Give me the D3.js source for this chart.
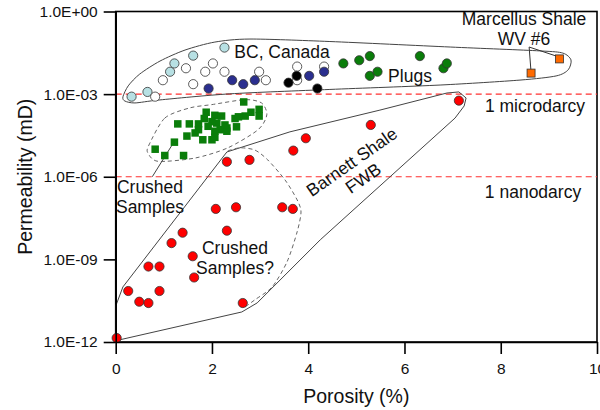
<!DOCTYPE html>
<html>
<head>
<meta charset="utf-8">
<script src="https://cdn.jsdelivr.net/npm/d3@7"></script>
<style>
  body { margin: 0; background: #fff; }
  svg { font-family: "Liberation Sans", Arial, sans-serif; }
  .axis path, .axis line { stroke: #000; stroke-width: 1.6; }
  .axis text { font-size: 15.5px; fill: #111; }
</style>
</head>
<body>
<div id="chart"></div>
<script>
// porosity (%) and permeability (mD)
var bcLightX = [0.33, 0.66, 1.13, 1.22, 1.61, 2.26];
var bcLightY = [8.1e-4, 1.2e-3, 6.5e-3, 1.3e-2, 2.5e-2, 4.9e-2];

var bcOpenX = [0.82, 0.98, 1.46, 1.61, 1.86, 2.02, 2.26, 2.98, 3.12, 3.77, 3.77, 4.33];
var bcOpenY = [8.1e-4, 3.2e-3, 8.7e-3, 2.3e-3, 6.5e-3, 1.3e-2, 6.5e-3, 6.5e-3, 3.2e-3, 1.0e-2, 3.2e-3, 1.0e-2];

var bcNavyX = [1.93, 2.42, 2.65, 2.89, 4.02, 4.33];
var bcNavyY = [1.6e-3, 3.2e-3, 2.3e-3, 3.2e-3, 4.6e-3, 6.5e-3];

var bcBlackX = [3.59, 3.76, 4.19];
var bcBlackY = [2.6e-3, 4.6e-3, 1.6e-3];

var plugsX = [4.73, 5.06, 5.28, 5.28, 5.44, 6.32, 6.81, 6.88];
var plugsY = [1.3e-2, 1.7e-2, 2.4e-2, 4.6e-3, 6.5e-3, 2.4e-2, 8.7e-3, 1.3e-2];

var marcellusX = [8.63, 9.22];
var marcellusY = [5.8e-3, 1.9e-2];

var barnettX = [0.02, 0.26, 0.49, 0.68, 0.91, 0.68, 0.91, 1.16, 1.39, 1.60, 1.63, 2.08,
  2.50, 2.31, 2.64, 2.31, 2.78, 3.46, 3.68, 3.69, 3.95, 5.30, 7.13];
var barnettY = [1.4e-12, 7.1e-11, 2.9e-11, 2.6e-11, 7.1e-11, 5.5e-10, 5.5e-10, 3.9e-9, 9.3e-9, 1.3e-9, 2.2e-10, 6.8e-8,
  7.8e-8, 1.1e-8, 2.6e-11, 3.5e-6, 4.1e-6, 7.8e-8, 6.8e-8, 8.9e-6, 2.5e-5, 7.6e-5, 5.8e-4];

var crushedX = [2.66, 2.98, 2.98, 2.81, 2.69, 2.48, 1.88, 2.06, 2.20, 1.84, 1.29, 1.53, 1.72, 2.10, 2.00, 2.31, 2.17,
  1.72, 1.92, 2.51, 2.31, 2.06, 1.65, 1.48, 2.06, 1.81, 2.00, 1.22, 0.82, 1.02, 1.41, 2.27, 2.55];
var crushedY = [5.2e-4, 2.8e-4, 1.6e-4, 2.2e-4, 1.6e-4, 1.3e-4, 2.2e-4, 1.7e-4, 1.6e-4, 1.3e-4, 8.3e-5, 8.3e-5, 8.3e-5, 8.9e-5, 1.0e-4, 5.9e-5, 5.1e-5,
  5.1e-5, 6.8e-5, 6.5e-5, 4.5e-5, 4.5e-5, 3.9e-5, 3.0e-5, 2.7e-5, 2.2e-5, 2.2e-5, 1.8e-5, 1.0e-5, 5.9e-6, 5.9e-6, 7.6e-5, 1.5e-4];

var xTicks = [0, 2, 4, 6, 8, 10];
var yTicks = [1, 1e-3, 1e-6, 1e-9, 1e-12];
var yTickLabels = ["1.0E+00", "1.0E-03", "1.0E-06", "1.0E-09", "1.0E-12"];
var refLines = [1e-3, 1e-6];

// outlines drawn on the chart, [porosity, log10 permeability]
var bcOutline = [[0.15, -3.10], [0.26, -2.70], [0.50, -2.27], [0.92, -1.80], [1.44, -1.40], [2.06, -1.11],
  [2.79, -1.00], [4.45, -1.09], [6.95, -1.29], [8.81, -1.43], [9.29, -1.51], [9.46, -1.76], [9.40, -2.12],
  [9.15, -2.34], [8.40, -2.49], [6.74, -2.67], [4.45, -2.83], [2.37, -2.99], [0.92, -3.21], [0.40, -3.32], [0.19, -3.25]];
var crushedOutline = [[0.69, -4.85], [1.02, -3.87], [1.54, -3.50], [2.00, -3.38], [2.69, -3.20], [3.03, -3.32],
  [3.14, -3.75], [2.96, -4.29], [2.33, -4.95], [1.65, -5.32], [0.88, -5.44], [0.67, -5.14]];
var barnettOutline = [[0.01, -11.95], [0.01, -10.65], [0.15, -10.00], [2.31, -5.10], [3.62, -4.37], [5.49, -3.58],
  [6.88, -2.96], [7.13, -2.92], [7.28, -3.14], [7.24, -3.43], [7.05, -3.87], [4.25, -8.29], [2.94, -10.58], [2.62, -10.91]];
var crushedQOutline = [[2.33, -5.06], [2.58, -4.95], [2.89, -5.03], [3.16, -5.39], [3.52, -6.12], [3.77, -6.84],
  [3.85, -7.28], [3.77, -8.00], [3.56, -9.09], [3.25, -10.00], [2.89, -10.47], [2.69, -10.73]];
var crushedLeader = [[1.21, -4.74], [0.76, -6.00]];
var marcellusLeaders = [[[8.59, -1.29], [8.63, -2.20]], [[8.59, -1.29], [9.21, -1.65]]];

var width = 600, height = 410;
var margin = {top: 11.5, right: 3, bottom: 68, left: 115.7};

var svg = d3.select("#chart").append("svg")
  .attr("width", width)
  .attr("height", height);

var x = d3.scaleLinear().domain([0, 10]).range([margin.left, width - margin.right]);
var y = d3.scaleLog().domain([1e-12, 1]).range([height - margin.bottom, margin.top]);

function pt(p) { return [x(p[0]), y(Math.pow(10, p[1]))]; }
function pairs(xs, ys) { return xs.map(function(v, i) { return [v, ys[i]]; }); }

// frame
svg.append("rect")
  .attr("x", x(0)).attr("y", y(1))
  .attr("width", x(10) - x(0)).attr("height", y(1e-12) - y(1))
  .attr("fill", "none").attr("stroke", "#000").attr("stroke-width", 1.6);

// reference lines
svg.selectAll(".ref").data(refLines).enter().append("line")
  .attr("x1", x(0)).attr("x2", x(10))
  .attr("y1", function(d) { return y(d); }).attr("y2", function(d) { return y(d); })
  .attr("stroke", "#ff3030").attr("stroke-width", 1.2).attr("stroke-dasharray", "6,4");

// outlines
var closedLine = d3.line().curve(d3.curveCardinalClosed.tension(0.2));
svg.append("path").attr("d", closedLine(bcOutline.map(pt)))
  .attr("fill", "none").attr("stroke", "#444").attr("stroke-width", 1);
svg.append("path").attr("d", closedLine(crushedOutline.map(pt)))
  .attr("fill", "none").attr("stroke", "#666").attr("stroke-width", 1).attr("stroke-dasharray", "4,3");
svg.append("path").attr("d", d3.line().curve(d3.curveLinearClosed)(barnettOutline.map(pt)))
  .attr("fill", "none").attr("stroke", "#444").attr("stroke-width", 1);
svg.append("path").attr("d", d3.line().curve(d3.curveCardinal.tension(0.2))(crushedQOutline.map(pt)))
  .attr("fill", "none").attr("stroke", "#666").attr("stroke-width", 1).attr("stroke-dasharray", "4,3");
svg.append("path").attr("d", d3.line()(crushedLeader.map(pt)))
  .attr("fill", "none").attr("stroke", "#444").attr("stroke-width", 1);
marcellusLeaders.forEach(function(l) {
  svg.append("path").attr("d", d3.line()(l.map(pt)))
    .attr("fill", "none").attr("stroke", "#333").attr("stroke-width", 1);
});

// points
function circles(xs, ys, fill) {
  svg.append("g").selectAll("circle").data(pairs(xs, ys)).enter().append("circle")
    .attr("cx", function(d) { return x(d[0]); })
    .attr("cy", function(d) { return y(d[1]); })
    .attr("r", 4.6)
    .attr("fill", fill).attr("stroke", "#333").attr("stroke-width", 0.8);
}
function squares(xs, ys, fill, s, stroke) {
  svg.append("g").selectAll("rect").data(pairs(xs, ys)).enter().append("rect")
    .attr("x", function(d) { return x(d[0]) - s / 2; })
    .attr("y", function(d) { return y(d[1]) - s / 2; })
    .attr("width", s).attr("height", s)
    .attr("fill", fill).attr("stroke", stroke).attr("stroke-width", stroke == "none" ? 0 : 0.8);
}

squares(crushedX, crushedY, "#0a7d0a", 7.5, "none");
circles(bcLightX, bcLightY, "#b7e0e3");
circles(bcOpenX, bcOpenY, "#ffffff");
circles(bcNavyX, bcNavyY, "#2b2f8f");
circles(bcBlackX, bcBlackY, "#000000");
circles(plugsX, plugsY, "#0a7d0a");
circles(barnettX, barnettY, "#ff0000");
squares(marcellusX, marcellusY, "#ff6a00", 8, "#333");

// axes
svg.append("g").attr("class", "axis")
  .attr("transform", "translate(0," + y(1e-12) + ")")
  .call(d3.axisBottom(x).tickValues(xTicks).tickSize(12).tickPadding(6).tickSizeOuter(0))
  .selectAll("text").attr("dy", "0.9em");

svg.append("g").attr("class", "axis")
  .attr("transform", "translate(" + x(0) + ",0)")
  .call(d3.axisLeft(y).tickValues(yTicks).tickSize(12).tickPadding(6).tickSizeOuter(0)
    .tickFormat(function(d, i) { return yTickLabels[i]; }));

// titles
svg.append("text")
  .attr("x", (x(0) + x(10)) / 2).attr("y", 403)
  .attr("text-anchor", "middle").attr("font-size", "19.5px").attr("fill", "#111")
  .text("Porosity (%)");
svg.append("text")
  .attr("transform", "translate(32," + ((y(1) + y(1e-12)) / 2) + ") rotate(-90)")
  .attr("text-anchor", "middle").attr("font-size", "19.5px").attr("fill", "#111")
  .text("Permeability (mD)");

// annotations
function label(lines, cx, cy, rot, size) {
  var t = svg.append("text")
    .attr("transform", "translate(" + cx + "," + cy + ") rotate(" + rot + ")")
    .attr("text-anchor", "middle").attr("font-size", size + "px").attr("fill", "#111");
  lines.forEach(function(s, i) {
    t.append("tspan").attr("x", 0)
      .attr("y", (i - (lines.length - 1) / 2) * 20)
      .attr("dy", "0.35em").text(s);
  });
}
label(["BC, Canada"], 282, 51.5, 0, 17.5);
label(["Plugs"], 410, 76, 0, 17.5);
label(["Marcellus Shale", "WV #6"], 524, 29, 0, 17.5);
label(["1 microdarcy"], 535, 106, 0, 17.5);
label(["1 nanodarcy"], 533, 191.5, 0, 17.5);
label(["Crushed", "Samples"], 150, 197, 0, 17.5);
label(["Crushed", "Samples?"], 235, 258, 0, 17.5);
label(["Barnett Shale", "FWB"], 357.5, 170, -35, 17.5);
</script>
</body>
</html>
